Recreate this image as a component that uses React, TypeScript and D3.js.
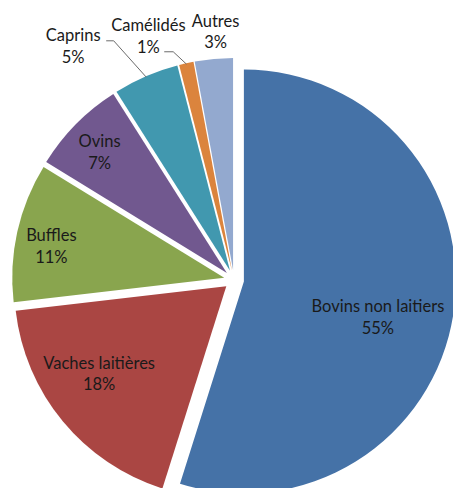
import React from "react";
import * as d3 from "d3";

const categories = ["Bovins non laitiers", "Vaches laitières", "Buffles", "Ovins", "Caprins", "Camélidés", "Autres"];
const values = [54.9, 18.3, 10.6, 7.25, 5.0, 1.1, 2.9];
const percentLabels = ["55%", "18%", "11%", "7%", "5%", "1%", "3%"];
const colors = ["#4572A7", "#AA4643", "#89A54E", "#71588F", "#4198AF", "#DB843D", "#93A9CF"];

// layout (label placement relative to each exploded slice apex: angle in degrees, radius factor)
const labelAngles = [104.8, 235.6, 280.4, 313.5, 325.1, 340.4, 355.8];
const labelRadii = [0.654, 0.727, 0.829, 0.828, 1.293, 1.173, 1.128];
// leader lines for outside labels: [start dx, start dy] from label centre, elbow length
const leaders: Record<number, { dx: number; dy: number; elbow: number }> = {
  4: { dx: 33, dy: -5.2, elbow: 7.5 },
  5: { dx: 15.8, dy: 15.8, elbow: 9 },
};

const W = 453;
const H = 488;
const CX = 234;
const CY = 280;
const R = 212;
const EXPLODE = 10;
const LINE_GAP = 10.8;

export default function App() {
  const pie = d3
    .pie<number>()
    .sort(null)
    .value((d) => d)
    .startAngle(0)
    .endAngle(2 * Math.PI);
  const arcs = pie(values);
  const arc = d3.arc<d3.PieArcDatum<number>>().innerRadius(0).outerRadius(R);

  const toRad = (deg: number) => (deg * Math.PI) / 180;

  return (
    <svg
      width={W}
      height={H}
      style={{ position: "absolute", left: 0, top: 0, background: "#fff" }}
      fontFamily="Lato, 'Open Sans', sans-serif"
      fontSize={16.5}
    >
      <rect width={W} height={H} fill="#fff" />
      {arcs.map((a, i) => {
        const mid = (a.startAngle + a.endAngle) / 2;
        const ox = CX + EXPLODE * Math.sin(mid);
        const oy = CY - EXPLODE * Math.cos(mid);
        return (
          <path
            key={categories[i]}
            d={arc(a) || ""}
            transform={`translate(${ox},${oy})`}
            fill={colors[i]}
          />
        );
      })}
      {arcs.map((a, i) => {
        const mid = (a.startAngle + a.endAngle) / 2;
        const ox = CX + EXPLODE * Math.sin(mid);
        const oy = CY - EXPLODE * Math.cos(mid);
        const la = toRad(labelAngles[i]);
        const lx = ox + labelRadii[i] * R * Math.sin(la);
        const ly = oy - labelRadii[i] * R * Math.cos(la);
        const leader = leaders[i];
        let leaderPath: string | null = null;
        if (leader) {
          const sx = lx + leader.dx;
          const sy = ly + leader.dy;
          const ex = ox + (R - 1) * Math.sin(mid);
          const ey = oy - (R - 1) * Math.cos(mid);
          leaderPath = `M${sx},${sy}H${sx + leader.elbow}L${ex},${ey}`;
        }
        return (
          <g key={"l" + categories[i]}>
            {leaderPath && <path d={leaderPath} fill="none" stroke="#6b6b6b" strokeWidth={1} />}
            <text x={lx} y={ly - LINE_GAP} textAnchor="middle" dominantBaseline="central" fill="#1a1a1a">
              {categories[i]}
            </text>
            <text x={lx} y={ly + LINE_GAP} textAnchor="middle" dominantBaseline="central" fill="#1a1a1a">
              {percentLabels[i]}
            </text>
          </g>
        );
      })}
    </svg>
  );
}
